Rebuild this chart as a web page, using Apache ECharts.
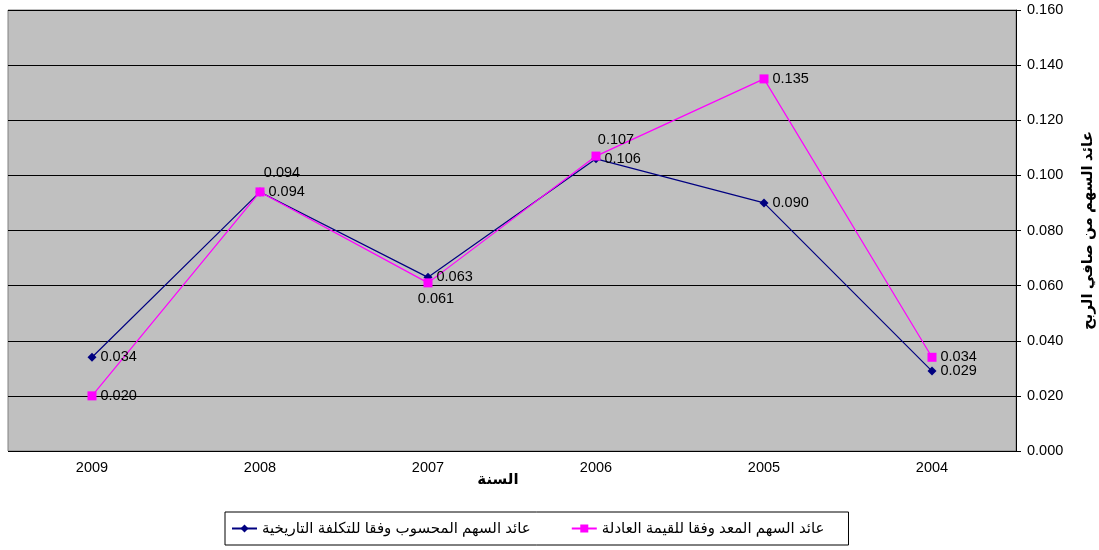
<!DOCTYPE html>
<html>
<head>
<meta charset="utf-8">
<script src="https://cdn.jsdelivr.net/npm/echarts@6/dist/echarts.min.js"></script>
<style>
  html, body { margin: 0; padding: 0; background: #fff; }
  #chart { width: 1099px; height: 550px; }
</style>
</head>
<body>
<div id="chart"></div>
<script>
const years = ['2009', '2008', '2007', '2006', '2005', '2004']
const historicalCost = [0.034, 0.094, 0.063, 0.106, 0.090, 0.029]
const fairValue = [0.020, 0.094, 0.061, 0.107, 0.135, 0.034]
const nameHistorical = 'عائد السهم المحسوب وفقا للتكلفة التاريخية'
const nameFair = 'عائد السهم المعد وفقا للقيمة العادلة'

const chart = echarts.init(document.getElementById('chart'))

// label placement for the fair value points (mirrors the original layout)
const fairLabelPos = ['right', 'top', 'bottom', 'top', 'right', 'right']
const fairLabelOffset = [[0, 0], [22, -3], [8, 0], [20, 0], [0, 0], [0, 0]]

const numFont = 'Arial, "Liberation Sans", sans-serif'
const arFont = 'Arial, "DejaVu Sans", sans-serif'
const labelFont = { color: '#000', fontSize: 14.5, fontFamily: numFont }

const option = {
  animation: false,
  backgroundColor: '#fff',
  grid: {
    left: 8,
    right: 83,
    top: 10,
    bottom: 99,
    outerBoundsMode: 'none',
    containLabel: false,
    show: true,
    backgroundColor: '#C0C0C0',
    borderColor: '#808080',
    borderWidth: 1
  },
  legend: {
    bottom: 5,
    left: 225,
    itemGap: 40,
    itemWidth: 25,
    itemHeight: 10,
    padding: [9, 24, 9, 6],
    borderColor: '#000',
    borderWidth: 1,
    textStyle: { color: '#000', fontSize: 15, fontFamily: arFont },
    data: [nameHistorical, nameFair]
  },
  xAxis: {
    type: 'category',
    data: years,
    boundaryGap: true,
    name: 'السنة',
    nameLocation: 'middle',
    nameGap: 21,
    nameMoveOverlap: false,
    nameTextStyle: { color: '#000', fontSize: 15, fontWeight: 'bold', fontFamily: arFont, padding: [0, 28, 0, 0] },
    axisLine: { show: false },
    axisTick: { show: false },
    axisLabel: { color: '#000', fontSize: 14.5, margin: 9, fontFamily: numFont },
    splitLine: { show: false }
  },
  yAxis: {
    type: 'value',
    position: 'right',
    min: 0,
    max: 0.16,
    interval: 0.02,
    name: 'عائد السهم من صافي الربح',
    nameLocation: 'middle',
    nameRotate: 90,
    nameGap: 64,
    nameMoveOverlap: false,
    nameTextStyle: { color: '#000', fontSize: 15, fontWeight: 'bold', fontFamily: arFont },
    axisLine: { show: true, lineStyle: { color: '#000', width: 1 } },
    axisTick: { show: true, inside: false, length: 5, lineStyle: { color: '#000' } },
    axisLabel: {
      color: '#000',
      fontSize: 14.5,
      margin: 11,
      fontFamily: numFont,
      formatter: v => v.toFixed(3)
    },
    splitLine: { show: true, lineStyle: { color: '#000', width: 1 } }
  },
  series: [
    {
      name: nameHistorical,
      type: 'line',
      data: historicalCost,
      symbol: 'diamond',
      symbolSize: 9,
      showAllSymbol: true,
      lineStyle: { color: '#000080', width: 1.2 },
      itemStyle: { color: '#000080' },
      label: {
        show: true,
        position: 'right',
        distance: 4,
        ...labelFont,
        formatter: p => p.value.toFixed(3)
      }
    },
    {
      name: nameFair,
      type: 'line',
      data: fairValue.map((v, i) => ({
        value: v,
        label: { position: fairLabelPos[i], offset: fairLabelOffset[i] }
      })),
      symbol: 'rect',
      symbolSize: 9,
      showAllSymbol: true,
      lineStyle: { color: '#FF00FF', width: 1.2 },
      itemStyle: { color: '#FF00FF' },
      label: {
        show: true,
        position: 'right',
        distance: 4,
        ...labelFont,
        formatter: p => p.value.toFixed(3)
      }
    }
  ]
}

chart.setOption(option)
</script>
</body>
</html>
